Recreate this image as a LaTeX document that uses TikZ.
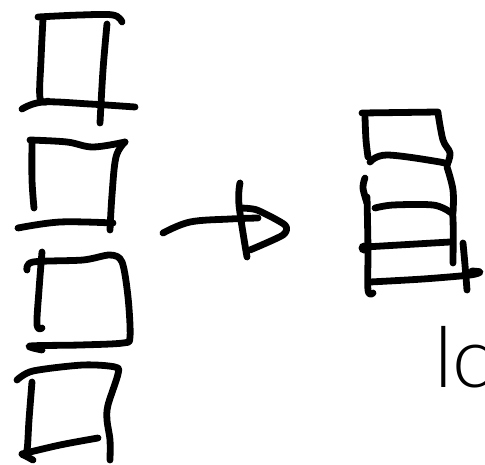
\documentclass[tikz,border=0pt]{standalone}
\usepackage{fontspec}
\setmainfont{Lato Light}
\begin{document}
\begin{tikzpicture}[x=1pt,y=-1pt,
  ink/.style={line width=6.8pt,line cap=round,line join=round,black}]
\useasboundingbox (0,0) rectangle (485,464);
\clip (0,0) rectangle (485,464);
% square 1
\draw[ink] plot[smooth,tension=0.6] coordinates {(38,17) (80,15) (113,15) (122,22)};
\draw[ink] plot[smooth,tension=0.6] coordinates {(43,19) (41,60) (40,98) (48,101)};
\draw[ink] plot[smooth,tension=0.6] coordinates {(22,109) (43,102) (90,104) (135,107)};
\draw[ink] plot[smooth,tension=0.6] coordinates {(107,24) (103,70) (100,123)};
% square 2
\draw[ink] plot[smooth,tension=0.6] coordinates {(30,140) (67,142) (93,147) (125,142)};
\draw[ink] plot[smooth,tension=0.6] coordinates {(32,142) (32,180) (34,208)};
\draw[ink] plot[smooth,tension=0.6] coordinates {(125,142) (116,157) (112,195) (110,230)};
\draw[ink] plot[smooth,tension=0.6] coordinates {(18,228) (60,222) (113,223)};
% square 3
\draw[ink] plot[smooth,tension=0.6] coordinates {(42,252) (39,290) (37,325) (42,328)};
\draw[ink] plot[smooth,tension=0.5] coordinates {(27,270) (33,262) (83,260) (110,255) (122,262) (128,297) (130,337) (123,343) (80,345) (30,346) (42,350)};
% square 4
\draw[ink] plot[smooth,tension=0.5] coordinates {(17,380) (33,371) (83,365) (115,367) (118,374) (108,405) (107,420) (110,440) (110,460)};
\draw[ink] plot[smooth,tension=0.6] coordinates {(32,382) (29,420) (27,450) (23,455)};
\draw[ink] plot[smooth,tension=0.6] coordinates {(22,454) (60,445) (98,438)};
\draw[ink] (22,454) -- (33,460);
% arrow
\draw[ink] plot[smooth,tension=0.6] coordinates {(163,233) (190,222) (230,219) (258,218)};
\draw[ink] plot[smooth,tension=0.6] coordinates {(240,183) (239,205) (247,257)};
\draw[ink] plot[smooth,tension=0.4] coordinates {(240,208) (257,210) (285,225) (283,235) (250,250)};
% right stack
\draw[ink] (362,113) -- (438,112);
\draw[ink] plot[smooth,tension=0.6] coordinates {(365,117) (366,140) (368,157)};
\draw[ink] plot[smooth,tension=0.6] coordinates {(438,113) (443,140) (450,153) (447,165)};
\draw[ink] plot[smooth,tension=0.6] coordinates {(370,162) (387,155) (440,162) (447,165)};
\draw[ink] plot[smooth,tension=0.6] coordinates {(365,178) (363,188) (367,203)};
\draw[ink] plot[smooth,tension=0.6] coordinates {(367,197) (368,250) (368,290) (373,293)};
\draw[ink] plot[smooth,tension=0.6] coordinates {(447,167) (453,190) (453,213)};
\draw[ink] plot[smooth,tension=0.5] coordinates {(375,208) (393,205) (433,205) (450,212) (453,219) (453,263)};
\fill (364,248) circle (5.5pt);
\draw[ink] (365,247) -- (450,242);
\draw[ink] plot[smooth,tension=0.6] coordinates {(463,243) (465,265) (467,290)};
\draw[ink] plot[smooth,tension=0.5] coordinates {(370,282) (423,279) (470,275) (480,272) (472,271)};
% text
\node[anchor=base west,inner sep=0pt,font=\fontsize{84}{90}\selectfont] (lbl) at (434,387) {lc};
\end{tikzpicture}
\end{document}
